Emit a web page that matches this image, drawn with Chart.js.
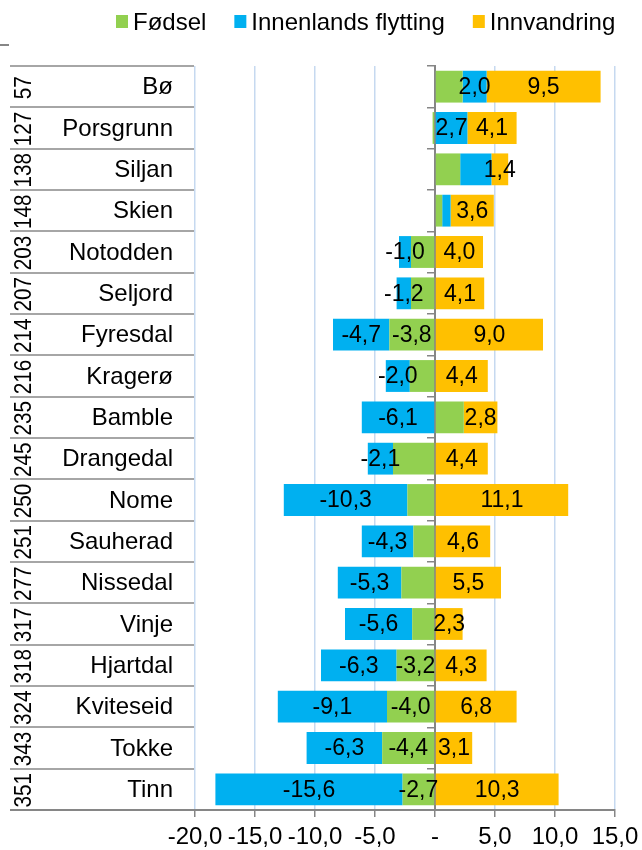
<!DOCTYPE html>
<html>
<head>
<meta charset="utf-8">
<script src="https://cdn.jsdelivr.net/npm/chart.js@4"></script>
<style>
  html, body { margin: 0; padding: 0; background: #fff; }
  #wrap { position: relative; width: 642px; height: 850px; }
</style>
</head>
<body>
<div id="wrap"><canvas id="chart"></canvas></div>
<script>
const kommuner = ["Bø", "Porsgrunn", "Siljan", "Skien", "Notodden", "Seljord", "Fyresdal", "Kragerø", "Bamble",
  "Drangedal", "Nome", "Sauherad", "Nissedal", "Vinje", "Hjartdal", "Kviteseid", "Tokke", "Tinn"];
const rangering = ["57", "127", "138", "148", "203", "207", "214", "216", "235", "245", "250", "251", "277", "317",
  "318", "324", "343", "351"];
const fodsel = [2.3, -0.2, 2.1, 0.6, -2.0, -2.0, -3.8, -2.1, 2.4, -3.5, -2.3, -1.8, -2.8, -1.9, -3.2, -4.0, -4.4, -2.7];
const innenlands = [2.0, 2.7, 2.6, 0.7, -1.0, -1.2, -4.7, -2.0, -6.1, -2.1, -10.3, -4.3, -5.3, -5.6, -6.3, -9.1, -6.3, -15.6];
const innvandring = [9.5, 4.1, 1.4, 3.6, 4.0, 4.1, 9.0, 4.4, 2.8, 4.4, 11.1, 4.6, 5.5, 2.3, 4.3, 6.8, 3.1, 10.3];
const xTicks = [-20, -15, -10, -5, 0, 5, 10, 15];

// which bars carry a value label in the original
const fodselMedTall = ["Fyresdal", "Hjartdal", "Kviteseid", "Tokke", "Tinn"];
const innenlandsUtenTall = ["Siljan", "Skien"];

const FONT = '"Liberation Sans", Arial, sans-serif';
const GRAY = "#868686";
const fmt = (v) => (v === 0 ? "-" : v.toFixed(1).replace(".", ","));

const series = [
  { label: "Fødsel", data: fodsel, color: "#92d050", show: (k) => fodselMedTall.includes(k) },
  { label: "Innenlands flytting", data: innenlands, color: "#00b0f0", show: (k) => !innenlandsUtenTall.includes(k) },
  { label: "Innvandring", data: innvandring, color: "#ffc000", show: () => true },
];

const valueLabels = {
  id: "valueLabels",
  afterDatasetsDraw(chart) {
    const ctx = chart.ctx;
    ctx.save();
    ctx.font = `23px ${FONT}`;
    ctx.fillStyle = "#000";
    ctx.textAlign = "center";
    ctx.textBaseline = "middle";
    series.forEach((s, di) => {
      chart.getDatasetMeta(di).data.forEach((bar, i) => {
        if (!s.show(kommuner[i])) return;
        ctx.fillText(fmt(s.data[i]), (bar.x + bar.base) / 2, bar.y + 1);
      });
    });
    ctx.restore();
  },
};

const sideLabels = {
  id: "sideLabels",
  afterDraw(chart) {
    const ctx = chart.ctx;
    const area = chart.chartArea;
    const step = (area.bottom - area.top) / kommuner.length;
    ctx.save();

    ctx.strokeStyle = "#a6a6a6";
    ctx.lineWidth = 2;
    for (let i = 0; i < kommuner.length; i++) {
      const by = Math.round(area.top + i * step);
      ctx.beginPath();
      ctx.moveTo(10, by);
      ctx.lineTo(area.left - 1, by);
      ctx.stroke();
    }
    ctx.strokeStyle = GRAY;
    ctx.beginPath();
    ctx.moveTo(10, area.bottom);
    ctx.lineTo(area.left, area.bottom);
    ctx.moveTo(0, 45);
    ctx.lineTo(9, 45);
    ctx.stroke();

    ctx.fillStyle = "#000";
    ctx.textBaseline = "middle";
    kommuner.forEach((k, i) => {
      const cy = area.top + (i + 0.5) * step;
      ctx.font = `24px ${FONT}`;
      ctx.textAlign = "right";
      ctx.fillText(k, area.left - 22, cy + 1);
      ctx.save();
      ctx.font = `23px ${FONT}`;
      ctx.translate(25, cy + 1);
      ctx.rotate(-Math.PI / 2);
      ctx.scale(0.9, 1);
      ctx.textAlign = "center";
      ctx.fillText(rangering[i], 0, 0);
      ctx.restore();
    });

    // legend
    ctx.font = `24px ${FONT}`;
    ctx.textAlign = "left";
    let x = 116;
    series.forEach((s) => {
      ctx.fillStyle = s.color;
      ctx.fillRect(x, 15, 12, 13);
      ctx.fillStyle = "#000";
      ctx.fillText(s.label, x + 17, 23);
      x += 17 + ctx.measureText(s.label).width + 28;
    });
    ctx.restore();
  },
};

new Chart(document.getElementById("chart"), {
  type: "bar",
  data: {
    labels: kommuner,
    datasets: series.map((s) => ({
      label: s.label,
      data: s.data,
      backgroundColor: s.color,
      borderWidth: 0,
      barPercentage: 0.77,
      categoryPercentage: 1,
    })),
  },
  options: {
    indexAxis: "y",
    responsive: true,
    maintainAspectRatio: false,
    animation: false,
    devicePixelRatio: 1,
    layout: { padding: { left: 195, right: 27, top: 66, bottom: 0 } },
    plugins: {
      legend: { display: false },
      tooltip: { enabled: false },
    },
    scales: {
      x: {
        stacked: true,
        min: -20,
        max: 15,
        afterBuildTicks: (s) => { s.ticks = xTicks.map((v) => ({ value: v })); },
        afterFit: (s) => {
          s.height = 40;
          s.paddingLeft = 0;
          s.paddingRight = 0;
        },
        ticks: {
          color: "#000",
          font: { family: FONT, size: 24 },
          padding: 6,
          maxRotation: 0,
          autoSkip: false,
          callback: (v) => fmt(v),
        },
        grid: { color: "#c6d9f0", lineWidth: 1.5, tickColor: GRAY, tickLength: 7, tickWidth: 1.5 },
        border: { color: GRAY, width: 2 },
      },
      y: {
        stacked: true,
        position: { x: 0 },
        afterFit: (s) => { s.width = 0; },
        ticks: { display: false },
        grid: { drawOnChartArea: false, offset: true, color: GRAY, tickLength: 7, lineWidth: 1.5 },
        border: { color: GRAY, width: 2 },
      },
    },
  },
  plugins: [valueLabels, sideLabels],
});
</script>
</body>
</html>
